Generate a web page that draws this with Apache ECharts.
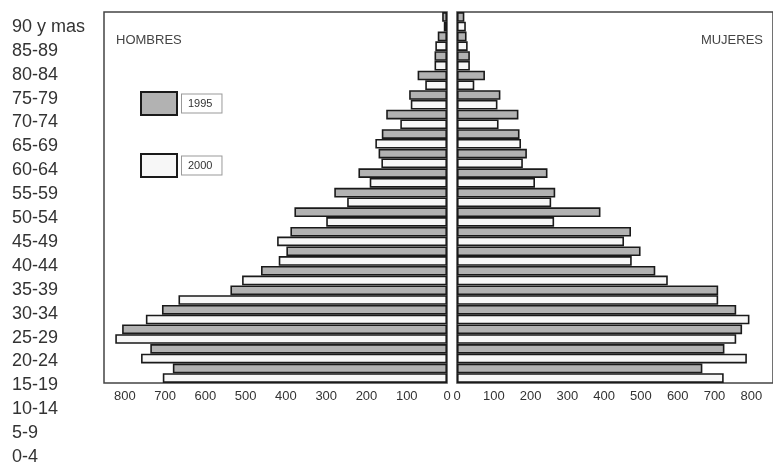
<!DOCTYPE html>
<html>
<head>
<meta charset="utf-8">
<script src="https://cdn.jsdelivr.net/npm/echarts@6/dist/echarts.min.js"></script>
<style>
html,body{margin:0;padding:0;background:#fff;}
#chart{width:773px;height:469px;}
</style>
</head>
<body>
<div id="chart"></div>
<script>
// Age groups, top to bottom
const ageGroups = ['90 y mas','85-89','80-84','75-79','70-74','65-69','60-64','55-59','50-54','45-49','40-44','35-39','30-34','25-29','20-24','15-19','10-14','5-9','0-4'];
const seriesNames = ['1995', '2000'];
// HOMBRES (men)
const men1995 = [12, 23, 31, 73, 94, 151, 162, 170, 220, 280, 379, 389, 399, 462, 538, 708, 807, 737, 681];
const men2000 = [8, 29, 31, 54, 90, 116, 178, 163, 192, 248, 300, 422, 418, 509, 667, 748, 824, 760, 706];
// MUJERES (women)
const women1995 = [20, 26, 35, 76, 118, 167, 170, 190, 246, 267, 390, 473, 499, 539, 710, 759, 775, 727, 667];
const women2000 = [24, 29, 35, 47, 110, 113, 174, 179, 212, 256, 264, 454, 475, 573, 710, 795, 759, 788, 725];
const panelTitles = ['HOMBRES', 'MUJERES'];

const FONT = 'Liberation Sans, Arial, sans-serif';
const chart = echarts.init(document.getElementById('chart'), null, {renderer: 'canvas'});

const grayStyle = {color: '#b2b2b2', borderColor: '#1a1a1a', borderWidth: 1.6};
const whiteStyle = {color: '#f7f7f7', borderColor: '#1a1a1a', borderWidth: 1.6};

const valueAxisCommon = {
  type: 'value', min: 0, interval: 100,
  splitLine: {show: false},
  axisTick: {show: false},
  axisLine: {show: false},
  axisLabel: {color: '#333', fontSize: 13, fontFamily: FONT, margin: 7, showMaxLabel: false}
};

const option = {
  animation: false,
  backgroundColor: '#fff',
  title: [
    {text: panelTitles[0], left: 111, top: 29, textStyle: {fontSize: 13, fontWeight: 'normal', color: '#444', fontFamily: FONT}},
    {text: panelTitles[1], right: 5, top: 29, textStyle: {fontSize: 13, fontWeight: 'normal', color: '#444', fontFamily: FONT}}
  ],
  legend: {
    data: seriesNames,
    orient: 'vertical',
    icon: 'rect',
    left: 135, top: 86,
    itemWidth: 36, itemHeight: 23, itemGap: 37,
    textStyle: {fontSize: 11, color: '#333', fontFamily: FONT, borderColor: '#999', borderWidth: 1, padding: [4, 9, 3, 6], backgroundColor: '#fff'}
  },
  grid: [
    {left: 104, top: 12, width: 343, height: 371, show: true, borderColor: '#444', borderWidth: 1.5},
    {left: 457, top: 12, width: 320, height: 371, show: true, borderColor: '#444', borderWidth: 1.5},
    {left: 100, top: 15, width: 1, height: 454, show: false}
  ],
  xAxis: [
    Object.assign({}, valueAxisCommon, {gridIndex: 0, max: 852, inverse: true}),
    Object.assign({}, valueAxisCommon, {gridIndex: 1, max: 859}),
    {type: 'value', gridIndex: 2, show: false}
  ],
  yAxis: [
    {type: 'category', gridIndex: 0, data: ageGroups, inverse: true, axisLabel: {show: false}, axisTick: {show: false}, axisLine: {show: false}},
    {type: 'category', gridIndex: 1, data: ageGroups, inverse: true, axisLabel: {show: false}, axisTick: {show: false}, axisLine: {show: false}},
    {type: 'category', gridIndex: 2, data: ageGroups, inverse: true, axisTick: {show: false}, axisLine: {show: false},
     axisLabel: {interval: 0, hideOverlap: false, align: 'left', margin: 88, fontSize: 18, color: '#333', fontFamily: FONT}}
  ],
  series: [
    {name: seriesNames[0], type: 'bar', xAxisIndex: 0, yAxisIndex: 0, data: men1995, itemStyle: grayStyle, barGap: '0%', barCategoryGap: '1%'},
    {name: seriesNames[1], type: 'bar', xAxisIndex: 0, yAxisIndex: 0, data: men2000, itemStyle: whiteStyle, barGap: '0%', barCategoryGap: '1%'},
    {name: seriesNames[0], type: 'bar', xAxisIndex: 1, yAxisIndex: 1, data: women1995, itemStyle: grayStyle, barGap: '0%', barCategoryGap: '1%'},
    {name: seriesNames[1], type: 'bar', xAxisIndex: 1, yAxisIndex: 1, data: women2000, itemStyle: whiteStyle, barGap: '0%', barCategoryGap: '1%'}
  ]
};
chart.setOption(option);
</script>
</body>
</html>
